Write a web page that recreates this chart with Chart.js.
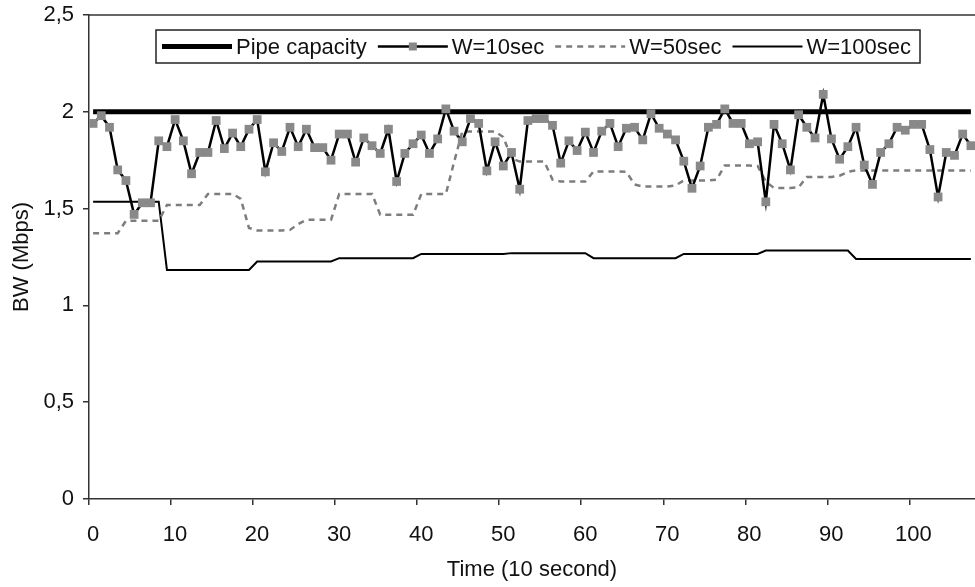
<!DOCTYPE html>
<html>
<head>
<meta charset="utf-8">
<script src="https://cdn.jsdelivr.net/npm/chart.js@4.4.1/dist/chart.umd.min.js"></script>
<style>
    html, body { margin: 0; padding: 0; background: #fff; }
    #wrap { width: 975px; height: 587px; }
</style>
</head>
<body>
<div id="wrap"><canvas id="bwChart" width="975" height="587"></canvas></div>
<script>

/* Data (Mbps, one sample per 10 s) */

const w10 = [
    1.94, 1.98, 1.92, 1.70, 1.645, 1.47, 1.53, 1.53, 1.85, 1.82,
    1.96, 1.85, 1.68, 1.79, 1.79, 1.955, 1.81, 1.89, 1.82, 1.91,
    1.96, 1.69, 1.84, 1.795, 1.92, 1.82, 1.91, 1.815, 1.815, 1.75,
    1.885, 1.885, 1.74, 1.865, 1.825, 1.785, 1.91, 1.64, 1.785, 1.835,
    1.88, 1.785, 1.86, 2.015, 1.90, 1.845, 1.965, 1.94, 1.695, 1.845,
    1.72, 1.79, 1.60, 1.955, 1.965, 1.965, 1.93, 1.735, 1.85, 1.80,
    1.895, 1.79, 1.90, 1.94, 1.82, 1.915, 1.92, 1.855, 1.99, 1.915,
    1.885, 1.855, 1.745, 1.605, 1.72, 1.92, 1.935, 2.015, 1.94, 1.94,
    1.835, 1.845, 1.535, 1.935, 1.835, 1.70, 1.985, 1.92, 1.865, 2.09,
    1.86, 1.755, 1.82, 1.92, 1.725, 1.625, 1.79, 1.835, 1.92, 1.905,
    1.935, 1.935, 1.805, 1.56, 1.79, 1.775, 1.885, 1.825
];

const w50 = [
    1.373, 1.373, 1.373, 1.373, 1.437, 1.437, 1.437, 1.437, 1.437, 1.519,
    1.519, 1.519, 1.519, 1.519, 1.576, 1.576, 1.576, 1.576, 1.55, 1.40,
    1.387, 1.387, 1.387, 1.387, 1.39, 1.42, 1.442, 1.442, 1.442, 1.442,
    1.576, 1.576, 1.576, 1.576, 1.576, 1.468, 1.468, 1.468, 1.468, 1.468,
    1.575, 1.575, 1.575, 1.575, 1.74, 1.898, 1.898, 1.898, 1.898, 1.898,
    1.87, 1.76, 1.743, 1.743, 1.743, 1.743, 1.65, 1.64, 1.64, 1.64,
    1.64, 1.692, 1.692, 1.692, 1.692, 1.69, 1.625, 1.614, 1.614, 1.614,
    1.614, 1.62, 1.645, 1.645, 1.645, 1.645, 1.65, 1.722, 1.722, 1.722,
    1.722, 1.72, 1.64, 1.606, 1.606, 1.606, 1.61, 1.663, 1.663, 1.663,
    1.663, 1.67, 1.69, 1.697, 1.697, 1.697, 1.697, 1.697, 1.697, 1.697,
    1.697, 1.697, 1.697, 1.697, 1.697, 1.697, 1.697, 1.697
];

const w100 = [
    1.536, 1.536, 1.536, 1.536, 1.536, 1.536, 1.536, 1.536, 1.536, 1.183,
    1.183, 1.183, 1.183, 1.183, 1.183, 1.183, 1.183, 1.183, 1.183, 1.183,
    1.227, 1.227, 1.227, 1.227, 1.227, 1.227, 1.227, 1.227, 1.227, 1.227,
    1.244, 1.244, 1.244, 1.244, 1.244, 1.244, 1.244, 1.244, 1.244, 1.244,
    1.266, 1.266, 1.266, 1.266, 1.266, 1.266, 1.266, 1.266, 1.266, 1.266,
    1.266, 1.27, 1.27, 1.27, 1.27, 1.27, 1.27, 1.27, 1.27, 1.27,
    1.27, 1.244, 1.244, 1.244, 1.244, 1.244, 1.244, 1.244, 1.244, 1.244,
    1.244, 1.244, 1.266, 1.266, 1.266, 1.266, 1.266, 1.266, 1.266, 1.266,
    1.266, 1.266, 1.283, 1.283, 1.283, 1.283, 1.283, 1.283, 1.283, 1.283,
    1.283, 1.283, 1.283, 1.24, 1.24, 1.24, 1.24, 1.24, 1.24, 1.24,
    1.24, 1.24, 1.24, 1.24, 1.24, 1.24, 1.24, 1.24
];

const pipeCapacity = 2;

// samples sit in the middle of each 10 s slot
const times = w10.map((v, i) => i + 0.5);

const xTicks = [0, 10, 20, 30, 40, 50, 60, 70, 80, 90, 100];


/* Helpers */

const FONT = '"Liberation Sans", Arial, Helvetica, sans-serif';
const INK = "#111";
const AXIS = "#333";

const toPoints = values => values.map((v, i) => ({ x: times[i], y: v }));

// keep the plot area where the original has it
const noScalePadding = scale => {
    scale.paddingLeft = 0;
    scale.paddingRight = 0;
    scale.paddingTop = 0;
    scale.paddingBottom = 0;
};


/* Legend box drawn inside the plot, like the original */

const legendBox = {
    id: "legendBox",
    afterDraw(chart) {
        const ctx = chart.ctx;
        const area = chart.chartArea;

        // top frame line
        ctx.save();
        ctx.strokeStyle = AXIS;
        ctx.lineWidth = 1.5;
        ctx.beginPath();
        ctx.moveTo(area.left, area.top);
        ctx.lineTo(area.right, area.top);
        ctx.stroke();

        const box = { left: 156, top: 30, width: 764, height: 33 };
        ctx.fillStyle = "#fff";
        ctx.fillRect(box.left, box.top, box.width, box.height);
        ctx.strokeStyle = "#222";
        ctx.lineWidth = 1.5;
        ctx.strokeRect(box.left, box.top, box.width, box.height);

        const cy = box.top + box.height / 2;
        let x = 162;
        ctx.font = "22px " + FONT;
        ctx.textBaseline = "middle";

        chart.data.datasets.forEach(ds => {
            ctx.strokeStyle = ds.borderColor;
            ctx.lineWidth = ds.borderWidth;
            ctx.setLineDash(ds.borderDash || []);
            ctx.beginPath();
            ctx.moveTo(x, cy);
            ctx.lineTo(x + 70, cy);
            ctx.stroke();
            ctx.setLineDash([]);

            if (ds.pointRadius > 0) {
                ctx.fillStyle = ds.pointBackgroundColor;
                ctx.fillRect(x + 31, cy - 4, 8, 8);
            }

            ctx.fillStyle = INK;
            ctx.fillText(ds.label, x + 74, cy + 1);
            x += 74 + ctx.measureText(ds.label).width + 11;
        });
        ctx.restore();
    }
};


/* Chart */

const ctx = document.getElementById("bwChart");

new Chart(ctx, {

    type: "line",

    data: {
        datasets: [
            {
                label: "Pipe capacity",
                data: times.map(t => ({ x: t, y: pipeCapacity })),
                borderColor: "#000",
                borderWidth: 5,
                pointRadius: 0,
                order: 1
            },
            {
                label: "W=10sec",
                data: toPoints(w10),
                borderColor: "#000",
                borderWidth: 2.5,
                pointStyle: "rect",
                pointRadius: 6.2,
                pointBorderWidth: 0,
                pointBackgroundColor: "#898989",
                pointBorderColor: "#898989",
                order: 0
            },
            {
                label: "W=50sec",
                data: toPoints(w50),
                borderColor: "#7d7d7d",
                borderWidth: 2.5,
                borderDash: [6, 5],
                pointRadius: 0,
                order: 2
            },
            {
                label: "W=100sec",
                data: toPoints(w100),
                borderColor: "#000",
                borderWidth: 2,
                pointRadius: 0,
                order: 3
            }
        ]
    },

    options: {
        responsive: false,
        animation: false,
        devicePixelRatio: 1,
        layout: {
            autoPadding: false,
            padding: { top: 15, right: 0, left: 0, bottom: 0 }
        },
        elements: { line: { tension: 0 } },
        plugins: {
            legend: { display: false },
            tooltip: { enabled: false }
        },
        scales: {
            x: {
                type: "linear",
                min: 0,
                max: 108,
                afterFit(scale) {
                    scale.height = 88;
                    noScalePadding(scale);
                },
                afterBuildTicks(scale) {
                    scale.ticks = xTicks.map(v => ({ value: v }));
                },
                ticks: {
                    font: { family: FONT, size: 22 },
                    color: INK,
                    padding: 17,
                    labelOffset: 4,
                    maxRotation: 0,
                    autoSkip: false
                },
                grid: {
                    drawOnChartArea: false,
                    tickLength: 6,
                    color: AXIS,
                    lineWidth: 1.5
                },
                border: { color: AXIS, width: 1.5 },
                title: {
                    display: true,
                    text: "Time (10 second)",
                    font: { family: FONT, size: 22 },
                    color: INK,
                    padding: { top: 0, bottom: 4 }
                }
            },
            y: {
                min: 0,
                max: 2.5,
                afterFit(scale) {
                    scale.width = 89;
                    noScalePadding(scale);
                },
                ticks: {
                    stepSize: 0.5,
                    font: { family: FONT, size: 22 },
                    color: INK,
                    padding: 9,
                    callback: v => String(v).replace(".", ",")
                },
                grid: {
                    drawOnChartArea: false,
                    tickLength: 6,
                    color: AXIS,
                    lineWidth: 1.5
                },
                border: { color: AXIS, width: 1.5 },
                title: {
                    display: true,
                    text: "BW (Mbps)",
                    font: { family: FONT, size: 22 },
                    color: INK,
                    padding: { top: 9, bottom: 0 }
                }
            }
        }
    },

    plugins: [legendBox]

});

</script>
</body>
</html>
